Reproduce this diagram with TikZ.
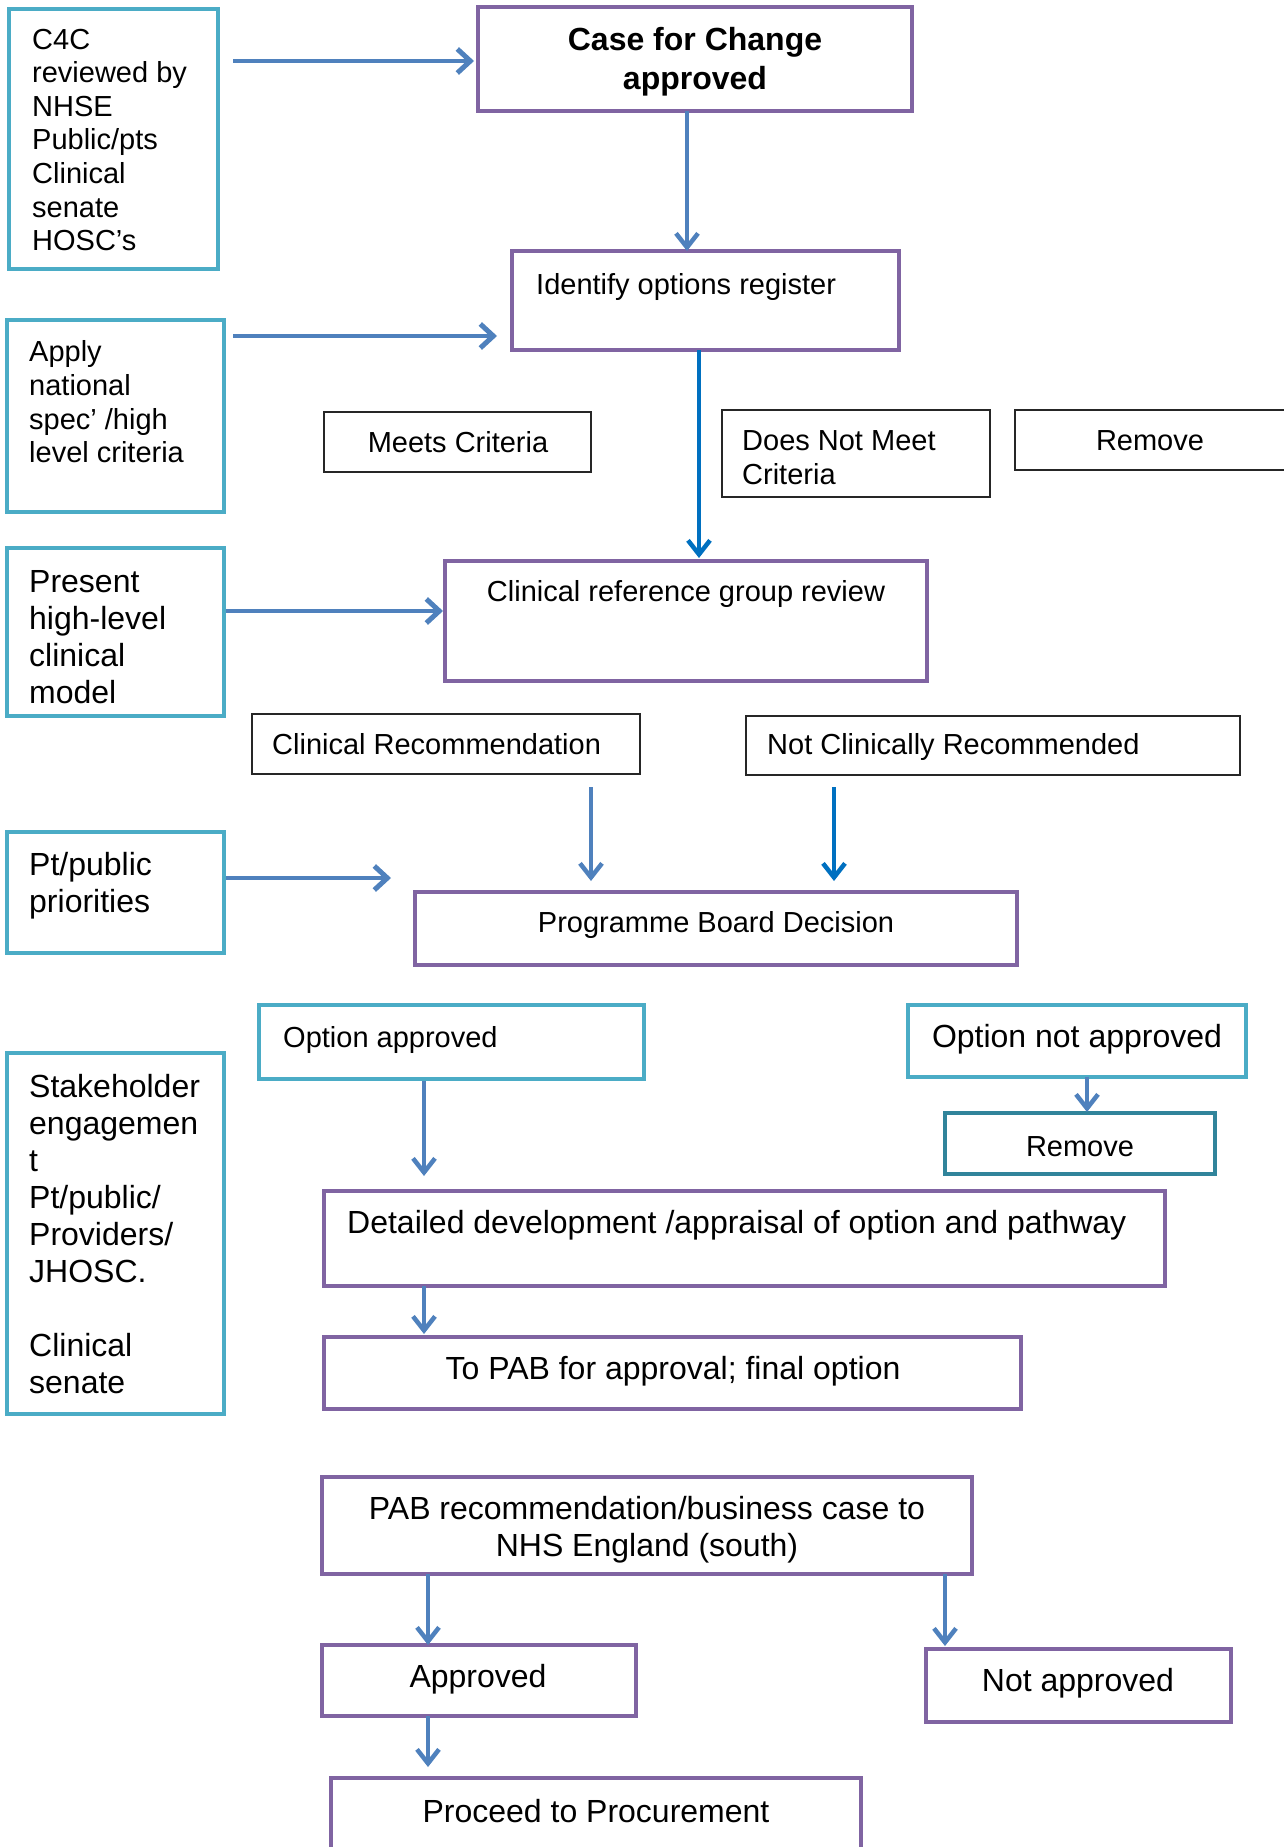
\documentclass[tikz,border=0pt]{standalone}
\usepackage{fontspec}
\setmainfont{Liberation Sans}
\usetikzlibrary{arrows.meta}
\definecolor{tealb}{HTML}{4BACC6}
\definecolor{purp}{HTML}{8064A2}
\definecolor{arrb}{HTML}{4F81BD}
\definecolor{arrd}{HTML}{0070C0}
\definecolor{remc}{HTML}{31849B}
\begin{document}
\begin{tikzpicture}[x=1pt,y=-1pt,
  bx/.style={draw, inner sep=0, outer sep=0, anchor=north west},
  sz/.style 2 args={minimum width=#1, minimum height=#2},
  tbox/.style={bx, draw=tealb, line width=4.5pt},
  pbox/.style={bx, draw=purp, line width=4.5pt},
  kbox/.style={bx, draw=black!85, line width=1.6pt},
  rbox/.style={bx, draw=remc, line width=4.5pt},
  fs/.style={inner sep=0, yshift=-2.5pt, align=left, font=\fontsize{29}{33.6}\selectfont},
  fl/.style={inner sep=0, yshift=-2.5pt, align=left, font=\fontsize{32}{37}\selectfont},
  arr/.style={draw=arrb, line width=4.5pt, -{Straight Barb[length=13pt,width=24pt,line width=5pt]}},
  arrv/.style={draw=arrb, line width=3.5pt, -{Straight Barb[length=14pt,width=22pt,line width=4.5pt]}},
  arrdv/.style={draw=arrd, line width=3.5pt, -{Straight Barb[length=14pt,width=22pt,line width=4.5pt]}}
]
\useasboundingbox (0,0) rectangle (1284,1847);
\clip (0,0) rectangle (1284,1847);

% boxes
\node[tbox, sz={209}{260}] (c4c) at (9,9) {};
\node[pbox, sz={434}{104}] (case) at (478,7) {};
\node[pbox, sz={387}{99}] (ident) at (512,251) {};
\node[tbox, sz={217}{192}] (apply) at (7,320) {};
\node[kbox, sz={267}{60}] (meets) at (324,412) {};
\node[kbox, sz={268}{87}] (dnm) at (722,410) {};
\node[kbox, sz={277}{60}] (rem1) at (1015,410) {};
\node[pbox, sz={482}{120}] (clinref) at (445,561) {};
\node[tbox, sz={217}{168}] (present) at (7,548) {};
\node[kbox, sz={388}{60}] (clinrec) at (252,714) {};
\node[kbox, sz={494}{59}] (notclin) at (746,716) {};
\node[pbox, sz={602}{73}] (pbd) at (415,892) {};
\node[tbox, sz={217}{121}] (ptpub) at (7,832) {};
\node[tbox, sz={385}{74}] (optap) at (259,1005) {};
\node[tbox, sz={338}{72}] (optnap) at (908,1005) {};
\node[rbox, sz={270}{61}] (rem2) at (945,1113) {};
\node[tbox, sz={217}{361}] (stake) at (7,1053) {};
\node[pbox, sz={841}{95}] (detail) at (324,1191) {};
\node[pbox, sz={697}{72}] (topab) at (324,1337) {};
\node[pbox, sz={650}{97}] (pabrec) at (322,1477) {};
\node[pbox, sz={314}{71}] (appr) at (322,1645) {};
\node[pbox, sz={305}{73}] (notap) at (926,1649) {};
\node[pbox, sz={530}{100}] (proc) at (331,1778) {};

% texts
\node[fs, anchor=west] (t-c4c) at (32,137.5) {C4C\\reviewed by\\NHSE\\Public/pts\\Clinical\\senate\\HOSC’s};
\node[inner sep=0, yshift=-2.5pt, align=center, font=\fontsize{32}{39}\selectfont\bfseries] (t-case) at (695,59) {Case for Change\\approved};
\node[fs, anchor=west] (t-ident) at (536,284) {Identify options register};
\node[fs, anchor=west] (t-apply) at (29,399.5) {Apply\\national\\spec’ /high\\level criteria};
\node[fs] (t-meets) at (458,440) {Meets Criteria};
\node[fs, anchor=west] (t-dnm) at (742,455) {Does Not Meet\\Criteria};
\node[fs] (t-rem1) at (1150,438) {Remove};
\node[fs] (t-clinref) at (686,591) {Clinical reference group review};
\node[fl, anchor=west] (t-present) at (29,635) {Present\\high-level\\clinical\\model};
\node[fs, anchor=west] (t-clinrec) at (272,742) {Clinical Recommendation};
\node[fs, anchor=west] (t-notclin) at (767,744) {Not Clinically Recommended};
\node[fs] (t-pbd) at (716,922) {Programme Board Decision};
\node[fl, anchor=west] (t-ptpub) at (29,883) {Pt/public\\priorities};
\node[fs, anchor=west] (t-optap) at (283,1037) {Option approved};
\node[fl] (t-optnap) at (1077,1037) {Option not approved};
\node[fs] (t-rem2) at (1080,1144) {Remove};
\node[fl, anchor=west] (t-stake) at (29,1232) {Stakeholder\\engagemen\\t\\Pt/public/\\Providers/\\JHOSC.\\\mbox{}\\Clinical\\senate};
\node[fl, anchor=west] (t-detail) at (347,1223) {Detailed development /appraisal of option and pathway};
\node[fl] (t-topab) at (673,1369) {To PAB for approval; final option};
\node[fl, align=center] (t-pabrec) at (647,1527) {PAB recommendation/business case to\\NHS England (south)};
\node[fl] (t-appr) at (478,1677) {Approved};
\node[fl] (t-notap) at (1078,1681) {Not approved};
\node[fl] (t-proc) at (596,1809) {Proceed to Procurement};

% connectors
\draw[arr, shorten <=15pt, shorten >=4pt] (c4c.east |- 0,61) -- (case.west |- 0,61);
\draw[arrv] (case.south -| 687,0) -- (ident.north -| 687,0);
\draw[arr, shorten <=9pt, shorten >=15pt] (apply.east |- 0,336) -- (ident.west |- 0,336);
\draw[arrdv, shorten >=3pt] (ident.south -| 699,0) -- (clinref.north -| 699,0);
\draw[arr, shorten <=2pt, shorten >=2pt] (present.east |- 0,611) -- (clinref.west |- 0,611);
\draw[arrv, shorten <=13pt, shorten >=11pt] (clinrec.south -| 591,0) -- (pbd.north -| 591,0);
\draw[arrdv, shorten <=12pt, shorten >=11pt] (notclin.south -| 834,0) -- (pbd.north -| 834,0);
\draw[arr, shorten <=2pt, shorten >=24pt] (ptpub.east |- 0,878) -- (pbd.west |- 0,878);
\draw[arrv, shorten <=2pt, shorten >=15pt] (optap.south -| 424,0) -- (detail.north -| 424,0);
\draw[arrv, shorten >=1pt] (optnap.south -| 1087,0) -- (rem2.north -| 1087,0);
\draw[arrv, shorten >=3pt] (detail.south -| 424,0) -- (topab.north -| 424,0);
\draw[arrv] (pabrec.south -| 428,0) -- (appr.north -| 428,0);
\draw[arrv, shorten >=3pt] (pabrec.south -| 945,0) -- (notap.north -| 945,0);
\draw[arrv, shorten >=11pt] (appr.south -| 428,0) -- (proc.north -| 428,0);
\end{tikzpicture}
\end{document}
